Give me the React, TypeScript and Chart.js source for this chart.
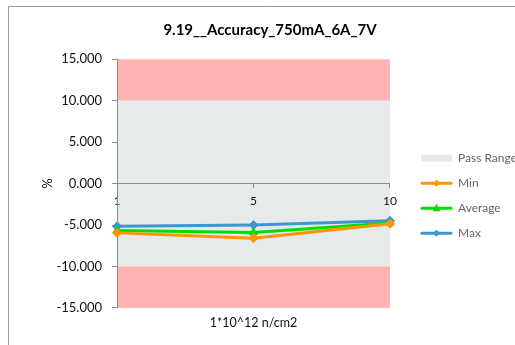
import React, { useEffect, useRef } from "react";
import { Chart, registerables } from "chart.js";

Chart.register(...registerables);

const titleText = "9.19__Accuracy_750mA_6A_7V";
const categories = ["1", "5", "10"];
const minValues = [-5.95, -6.6, -4.85];
const avgValues = [-5.65, -5.9, -4.75];
const maxValues = [-5.15, -5.0, -4.5];
const passRange = [-10, 10];
const failBands = [
  [10, 15],
  [-15, -10],
];
const yMin = -15;
const yMax = 15;
const yStep = 5;
const xTitle = "1*10^12 n/cm2";
const yTitle = "%";
const legendNames = ["Pass Range", "Min", "Average", "Max"];

const FONT = "Lato, 'Liberation Sans', sans-serif";
const PASS_COLOR = "#E6EAEA";
const FAIL_COLOR = "#FFB3B3";
const AXIS_COLOR = "#8C8C8C";
const SERIES_COLORS = ["#FF9400", "#00DD00", "#3D97CF"];
const SERIES_MARKERS = ["rectRot", "triangle", "rectRot"];

const CANVAS_W = 527;
const CANVAS_H = 345;

const bandsPlugin = {
  id: "bands",
  beforeDraw(chart: any) {
    const { ctx, chartArea, scales } = chart;
    const y = scales.y;
    ctx.save();
    ctx.strokeStyle = "#9A9A9A";
    ctx.lineWidth = 1;
    ctx.beginPath();
    ctx.moveTo(8.5, chart.height);
    ctx.lineTo(8.5, 6.5);
    ctx.lineTo(chart.width, 6.5);
    ctx.stroke();
    const l = chartArea.left;
    const w = chartArea.right - chartArea.left;
    ctx.fillStyle = PASS_COLOR;
    const pt = y.getPixelForValue(passRange[1]);
    const pb = y.getPixelForValue(passRange[0]);
    ctx.fillRect(l, pt, w, pb - pt);
    ctx.fillStyle = FAIL_COLOR;
    failBands.forEach(([a, b]) => {
      const t = y.getPixelForValue(b);
      const bt = y.getPixelForValue(a);
      ctx.fillRect(l, t, w, bt - t);
    });
    ctx.restore();
  },
};

const legendMarkPlugin = {
  id: "legendMarks",
  afterDraw(chart: any) {
    const legend = chart.legend;
    if (!legend || !legend.legendHitBoxes) return;
    const ctx = chart.ctx;
    const boxW = legend.options.labels.boxWidth;
    legend.legendHitBoxes.forEach((hb: any, i: number) => {
      if (i === 0) return;
      const s = i - 1;
      const cy = hb.top + hb.height / 2;
      ctx.save();
      ctx.strokeStyle = SERIES_COLORS[s];
      ctx.lineWidth = 3;
      ctx.lineCap = "round";
      ctx.beginPath();
      ctx.moveTo(hb.left + 1, cy);
      ctx.lineTo(hb.left + boxW - 1, cy);
      ctx.stroke();
      ctx.fillStyle = SERIES_COLORS[s];
      const cx = hb.left + boxW / 2;
      const r = 3.5;
      ctx.beginPath();
      if (SERIES_MARKERS[s] === "triangle") {
        ctx.moveTo(cx, cy - r - 1);
        ctx.lineTo(cx + r + 0.5, cy + r - 0.5);
        ctx.lineTo(cx - r - 0.5, cy + r - 0.5);
      } else {
        ctx.moveTo(cx, cy - r);
        ctx.lineTo(cx + r, cy);
        ctx.lineTo(cx, cy + r);
        ctx.lineTo(cx - r, cy);
      }
      ctx.closePath();
      ctx.fill();
      ctx.restore();
    });
  },
};

export default function App() {
  const ref = useRef<HTMLCanvasElement | null>(null);
  useEffect(() => {
    if (!ref.current) return;
    const seriesValues = [minValues, avgValues, maxValues];
    const chart = new Chart(ref.current, {
      type: "line",
      data: {
        labels: categories,
        datasets: seriesValues.map((vals, i) => ({
          label: legendNames[i + 1],
          data: vals,
          borderColor: SERIES_COLORS[i],
          backgroundColor: SERIES_COLORS[i],
          borderWidth: 3,
          pointStyle: SERIES_MARKERS[i] as any,
          pointRadius: 4.5,
          pointBorderWidth: 1,
          tension: 0,
          xAxisID: "x",
          yAxisID: "y",
        })),
      },
      options: {
        animation: false,
        responsive: false,
        maintainAspectRatio: false,
        layout: { padding: { left: 13, right: 0, top: 8, bottom: 14.6 } },
        plugins: {
          tooltip: { enabled: false },
          title: {
            display: true,
            text: titleText,
            color: "#000",
            font: { family: FONT, size: 15, weight: "bold" },
            padding: { top: 13, bottom: 20.2 },
          },
          legend: {
            display: true,
            position: "right",
            align: "start",
            maxWidth: 300,
            title: {
              display: true,
              text: "",
              font: { size: 1 },
              padding: { top: 130, bottom: 0 },
            },
            labels: {
              boxWidth: 31,
              boxHeight: 7,
              padding: 13,
              color: "#111",
              font: { family: FONT, size: 12 },
              generateLabels: () =>
                legendNames.map((name, i) => ({
                  text: name,
                  fillStyle: i === 0 ? PASS_COLOR : "rgba(0,0,0,0)",
                  strokeStyle: i === 0 ? PASS_COLOR : "rgba(0,0,0,0)",
                  lineWidth: 0,
                  hidden: false,
                  datasetIndex: i === 0 ? undefined : i - 1,
                })) as any,
            },
          },
        },
        scales: {
          x: {
            type: "category",
            position: "bottom",
            offset: false,
            grid: { display: false, drawTicks: false },
            border: { display: false },
            ticks: { display: false },
            title: {
              display: true,
              text: xTitle,
              color: "#111",
              font: { family: FONT, size: 12.5 },
              padding: { top: 7.5, bottom: 0 },
            },
          },
          x2: {
            type: "category",
            axis: "x",
            position: { y: 0 } as any,
            offset: false,
            grid: {
              display: true,
              drawOnChartArea: false,
              drawTicks: true,
              tickLength: 4,
              color: AXIS_COLOR,
            },
            border: { display: true, color: AXIS_COLOR, width: 1 },
            ticks: {
              color: "#111",
              font: { family: FONT, size: 12 },
              padding: 6.5,
              maxRotation: 0,
            },
          },
          y: {
            type: "linear",
            position: "left",
            min: yMin,
            max: yMax,
            afterFit: (s: any) => {
              s.width = 104;
            },
            grid: {
              display: true,
              drawOnChartArea: false,
              drawTicks: true,
              tickLength: 5,
              color: AXIS_COLOR,
            },
            border: { display: true, color: AXIS_COLOR, width: 1 },
            ticks: {
              stepSize: yStep,
              color: "#111",
              font: { family: FONT, size: 13 },
              padding: 10,
              callback: (v: any) => Number(v).toFixed(3),
            },
            title: {
              display: true,
              text: yTitle,
              color: "#111",
              font: { family: FONT, size: 13 },
              padding: { top: 27, bottom: 0 },
            },
          },
          y2: {
            type: "linear",
            position: "right",
            display: true,
            grid: { display: false, drawTicks: false },
            border: { display: false },
            ticks: { display: false },
            afterFit: (s: any) => {
              s.width = 18;
            },
          },
        },
      },
      plugins: [bandsPlugin, legendMarkPlugin],
    });
    return () => chart.destroy();
  }, []);
  return (
    <div
      style={{
        position: "absolute",
        left: 0,
        top: 0,
        width: 515,
        height: 345,
        overflow: "hidden",
        background: "#fff",
      }}
    >
      <canvas
        ref={ref}
        width={CANVAS_W}
        height={CANVAS_H}
        style={{ display: "block" }}
      />
    </div>
  );
}
